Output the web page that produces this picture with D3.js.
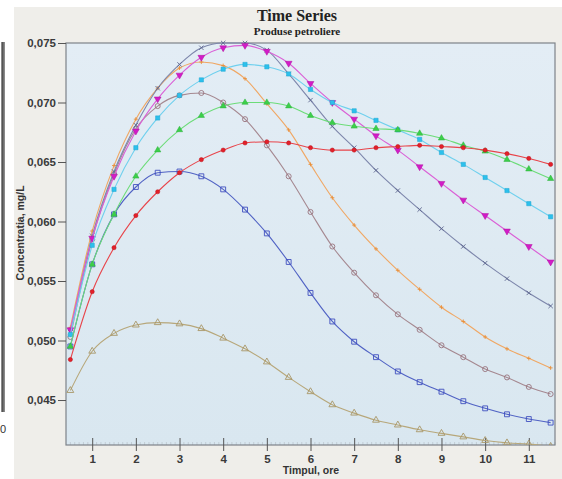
<!DOCTYPE html>
<html><head><meta charset="utf-8">
<script src="https://cdn.jsdelivr.net/npm/d3@7"></script>
<style>body{margin:0;background:#fff}svg{display:block}</style>
</head><body>
<svg id="c" width="562" height="479"></svg>
<script>
const hours = [0.5,1,1.5,2,2.5,3,3.5,4,4.5,5,5.5,6,6.5,7,7.5,8,8.5,9,9.5,10,10.5,11,11.5];
const xTicks = [1,2,3,4,5,6,7,8,9,10,11];
const yTicks = [0.045,0.050,0.055,0.060,0.065,0.070,0.075];
const red     = [0.0484,0.0541,0.0578,0.0605,0.0625,0.0641,0.0652,0.0660,0.0666,0.0667,0.0666,0.0662,0.0660,0.0660,0.0662,0.0663,0.0664,0.0663,0.0662,0.0660,0.0657,0.0653,0.0648];
const green   = [0.0495,0.0564,0.0606,0.0638,0.0660,0.0677,0.0689,0.0697,0.0700,0.0700,0.0697,0.0689,0.0683,0.0680,0.0678,0.0677,0.0674,0.0670,0.0664,0.0659,0.0652,0.0644,0.0636];
const cyan    = [0.0505,0.0580,0.0627,0.0662,0.0687,0.0706,0.0719,0.0728,0.0732,0.0730,0.0724,0.0711,0.0700,0.0693,0.0685,0.0677,0.0669,0.0658,0.0648,0.0637,0.0626,0.0615,0.0604];
const magenta = [0.0509,0.0586,0.0638,0.0676,0.0703,0.0723,0.0738,0.0746,0.0748,0.0743,0.0733,0.0716,0.0700,0.0686,0.0672,0.0660,0.0646,0.0632,0.0618,0.0605,0.0592,0.0579,0.0566];
const slate   = [0.0507,0.0588,0.0642,0.0681,0.0712,0.0732,0.0746,0.0750,0.0750,0.0744,0.0724,0.0702,0.0680,0.0662,0.0643,0.0626,0.0610,0.0594,0.0579,0.0565,0.0552,0.0540,0.0529];
const orange  = [0.0511,0.0592,0.0647,0.0686,0.0712,0.0729,0.0734,0.0731,0.0720,0.0699,0.0677,0.0648,0.0620,0.0597,0.0577,0.0559,0.0543,0.0528,0.0516,0.0503,0.0493,0.0485,0.0477];
const mauve   = [0.0503,0.0585,0.0640,0.0678,0.0697,0.0706,0.0708,0.0700,0.0686,0.0664,0.0638,0.0608,0.0579,0.0557,0.0538,0.0522,0.0509,0.0496,0.0486,0.0476,0.0469,0.0461,0.0455];
const blue    = [0.0495,0.0564,0.0606,0.0629,0.0641,0.0642,0.0638,0.0627,0.0610,0.0590,0.0566,0.0540,0.0516,0.0499,0.0486,0.0474,0.0465,0.0457,0.0449,0.0443,0.0438,0.0434,0.0431];
const tan     = [0.0458,0.0491,0.0506,0.0513,0.0515,0.0514,0.0510,0.0502,0.0493,0.0482,0.0469,0.0457,0.0446,0.0439,0.0433,0.0429,0.0425,0.0422,0.0419,0.0416,0.0414,0.0413,0.0411];

const series = [
  {v: tan,     line:"#b7a77a", mark:"tri",   fill:"none",    stroke:"#a89668"},
  {v: blue,    line:"#5062c4", mark:"sq",    fill:"none",    stroke:"#3f4fbf"},
  {v: mauve,   line:"#a58890", mark:"circ",  fill:"none",    stroke:"#98747e"},
  {v: orange,  line:"#f0a763", mark:"plus",  fill:"none",    stroke:"#e98f3a"},
  {v: slate,   line:"#7d86ab", mark:"x",     fill:"none",    stroke:"#5f6890"},
  {v: magenta, line:"#da5fd6", mark:"dtri",  fill:"#d21cc8", stroke:"#b0109f"},
  {v: cyan,    line:"#6fd0ee", mark:"fsq",   fill:"#2cc0ec", stroke:"#1ea7d0"},
  {v: green,   line:"#6cdc78", mark:"ftri",  fill:"#3ccf4a", stroke:"#2bb03a"},
  {v: red,     line:"#e8444a", mark:"fcirc", fill:"#e3202a", stroke:"#b81018"}
];

const svg = d3.select("#c");
const L=66,R=555,T=43,B=445;
const x = d3.scaleLinear().domain([0.4,11.6]).range([L,R]);
const y = d3.scaleLinear().domain([0.04122,0.075]).range([B,T]);

// remnants at far left
svg.append("rect").attr("x",1).attr("y",42).attr("width",4).attr("height",370).attr("fill","#8a8a8a");
svg.append("rect").attr("x",2).attr("y",42).attr("width",1.5).attr("height",370).attr("fill","#555");
svg.append("text").attr("x",0).attr("y",433).attr("font-family","Liberation Sans, Arial").attr("font-size",11).attr("fill","#333").text("0");

// panel
svg.append("rect").attr("x",14).attr("y",7).attr("width",548).attr("height",472).attr("fill","#efeeea");
const defs = svg.append("defs");
const grad = defs.append("linearGradient").attr("id","pg").attr("x1",0).attr("y1",0).attr("x2",0).attr("y2",1);
grad.append("stop").attr("offset","0%").attr("stop-color","#e3edf5");
grad.append("stop").attr("offset","100%").attr("stop-color","#d9e7f0");
defs.append("clipPath").attr("id","clip").append("rect").attr("x",L).attr("y",T-3).attr("width",R-L).attr("height",B-T+3);
svg.append("rect").attr("x",L).attr("y",T).attr("width",R-L).attr("height",B-T).attr("fill","url(#pg)");

// minor x ticks inside
const minor = d3.range(5,117).map(d=>d/10).filter(d=>Math.abs(d-Math.round(d))>1e-6);
svg.append("g").selectAll("line").data(minor).join("line")
  .attr("x1",d=>x(d)).attr("x2",d=>x(d)).attr("y1",B).attr("y2",B-3)
  .attr("stroke","#b2bac2").attr("stroke-width",0.6);

// frame
svg.append("rect").attr("x",L).attr("y",T).attr("width",R-L).attr("height",B-T).attr("fill","none").attr("stroke","#7d8389").attr("stroke-width",1.2);

// axes
const yAx = d3.axisLeft(y).tickValues(yTicks).tickSize(8).tickPadding(2).tickFormat(d=>d3.format(".3f")(d).replace(".",","));
const gy = svg.append("g").attr("transform",`translate(${L},0)`).call(yAx);
gy.select(".domain").remove();
gy.selectAll("line").attr("stroke","#555");
gy.selectAll("text").attr("font-family","Liberation Sans, Arial").attr("font-weight","bold").attr("font-size",11.5).attr("fill","#3a3a3a");

const xAx = d3.axisBottom(x).tickValues(xTicks).tickSize(6).tickPadding(4).tickFormat(d3.format("d"));
const gx = svg.append("g").attr("transform",`translate(0,${B})`).call(xAx);
gx.select(".domain").remove();
gx.selectAll("line").attr("stroke","#555").attr("y1",-7);
gx.selectAll("text").attr("font-family","Liberation Sans, Arial").attr("font-weight","bold").attr("font-size",11.5).attr("fill","#3a3a3a");

// titles
svg.append("text").attr("x",297).attr("y",21).attr("text-anchor","middle").attr("font-family","Liberation Serif, Times New Roman").attr("font-weight","bold").attr("font-size",16).attr("fill","#222").text("Time Series");
svg.append("text").attr("x",297).attr("y",35).attr("text-anchor","middle").attr("font-family","Liberation Serif, Times New Roman").attr("font-weight","bold").attr("font-size",11).attr("fill","#222").text("Produse petroliere");
svg.append("text").attr("x",311).attr("y",474).attr("text-anchor","middle").attr("font-family","Liberation Sans, Arial").attr("font-weight","bold").attr("font-size",10.5).attr("fill","#333").text("Timpul, ore");
svg.append("text").attr("transform","translate(24,233) rotate(-90)").attr("text-anchor","middle").attr("font-family","Liberation Sans, Arial").attr("font-weight","bold").attr("font-size",10.5).attr("fill","#333").text("Concentratia, mg/L");

// series
const plot = svg.append("g").attr("clip-path","url(#clip)");
const lineGen = d3.line().x((d,i)=>x(hours[i])).y(d=>y(d)).curve(d3.curveMonotoneX);
const sym = {
  tri: d3.symbolTriangle, ftri: d3.symbolTriangle, dtri: d3.symbolTriangle,
  circ: d3.symbolCircle, fcirc: d3.symbolCircle, sq: d3.symbolSquare, fsq: d3.symbolSquare
};
const sz = {tri:20, ftri:17, dtri:20, circ:20, fcirc:14, sq:24, fsq:18};
series.forEach(s=>{
  plot.append("path").attr("d",lineGen(s.v)).attr("fill","none").attr("stroke",s.line).attr("stroke-width",1.1);
  plot.append("g").selectAll("path").data(s.v).join("path")
    .attr("transform",(d,i)=>`translate(${x(hours[i])},${y(d)})${s.mark==="dtri"?" rotate(180)":""}`)
    .attr("d",d=>{
      if(s.mark==="plus"){return "M-2,0H2M0,-2V2";}
      if(s.mark==="x"){return "M-2.2,-2.2L2.2,2.2M-2.2,2.2L2.2,-2.2";}
      return d3.symbol(sym[s.mark], sz[s.mark])();
    })
    .attr("fill",s.fill).attr("stroke",s.stroke).attr("stroke-width",s.fill==="none"?0.9:0.5);
});
</script>
</body></html>
